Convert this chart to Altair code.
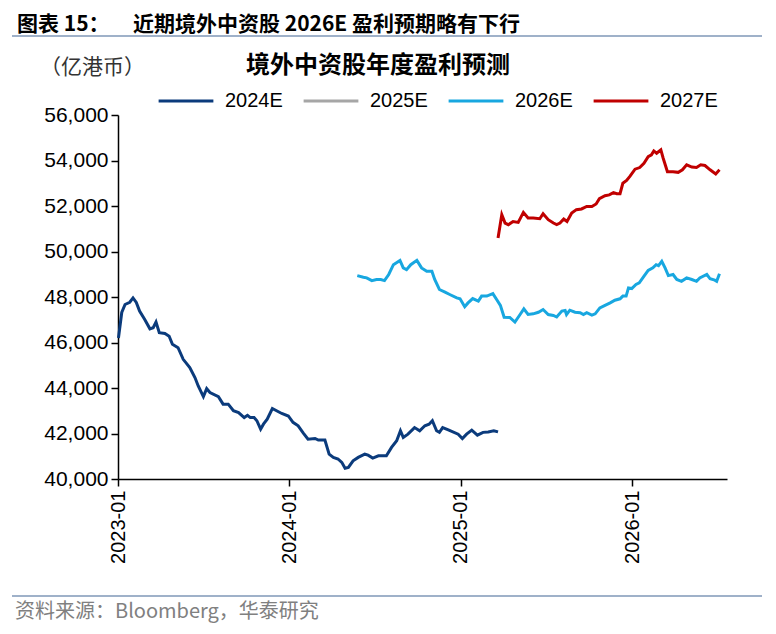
import altair as alt
import pandas as pd

series_names = ["2024E", "2025E", "2026E", "2027E"]
series_colors = ["#0b3b7c", "#a6a6a6", "#18a7e0", "#c00000"]

d2024 = ["2023-01-02", "2023-01-09", "2023-01-16", "2023-01-26", "2023-02-02", "2023-02-09", "2023-02-16",
         "2023-02-27", "2023-03-10", "2023-03-17", "2023-03-23", "2023-03-30", "2023-04-11", "2023-04-20",
         "2023-04-27", "2023-05-09", "2023-05-20", "2023-06-03", "2023-06-14", "2023-06-21", "2023-07-02",
         "2023-07-09", "2023-07-16", "2023-08-03", "2023-08-13", "2023-08-24", "2023-09-04", "2023-09-15",
         "2023-09-27", "2023-10-04", "2023-10-10", "2023-10-18", "2023-10-24", "2023-11-01", "2023-11-07",
         "2023-11-15", "2023-11-26", "2023-12-05", "2023-12-16", "2023-12-30", "2024-01-09", "2024-01-20",
         "2024-01-31", "2024-02-10", "2024-02-25", "2024-03-03", "2024-03-17", "2024-03-26", "2024-04-04",
         "2024-04-14", "2024-04-22", "2024-04-29", "2024-05-06", "2024-05-16", "2024-05-27", "2024-06-10",
         "2024-06-17", "2024-06-27", "2024-07-09", "2024-07-16", "2024-07-26", "2024-08-06", "2024-08-17",
         "2024-08-25", "2024-08-31", "2024-09-10", "2024-09-24", "2024-10-05", "2024-10-16", "2024-10-25",
         "2024-11-01", "2024-11-10", "2024-11-16", "2024-11-23", "2024-12-05", "2024-12-26", "2025-01-04",
         "2025-01-13", "2025-01-24", "2025-02-05", "2025-02-17", "2025-02-28", "2025-03-12", "2025-03-21"]
v2024 = [46200, 47320, 47670, 47770, 47960, 47760, 47380,
         47010, 46600, 46650, 46900, 46430, 46400, 46280,
         45920, 45770, 45260, 44900, 44460, 44090, 43620,
         43970, 43800, 43620, 43290, 43290, 43000, 42920,
         42700, 42800, 42700, 42700, 42560, 42190, 42410,
         42630, 43100, 43000, 42880, 42770, 42490, 42340,
         42020, 41750, 41780, 41710, 41710, 41090, 40950,
         40880, 40730, 40470, 40510, 40800, 40950, 41090,
         41050, 40920, 41020, 41020, 41020, 41390, 41680,
         42120, 41830, 41970, 42260, 42120, 42340, 42410,
         42560, 42120, 42050, 42260, 42160, 41970, 41780,
         41970, 42150, 41930, 42050, 42070, 42120, 42070]

d2026 = ["2024-05-25", "2024-06-07", "2024-06-14", "2024-06-25", "2024-07-05", "2024-07-14", "2024-07-22",
         "2024-07-31", "2024-08-10", "2024-08-24", "2024-08-31", "2024-09-07", "2024-09-16", "2024-09-29",
         "2024-10-09", "2024-10-20", "2024-10-31", "2024-11-06", "2024-11-16", "2024-11-28", "2024-12-08",
         "2024-12-23", "2024-12-30", "2025-01-09", "2025-01-16", "2025-01-26", "2025-02-07", "2025-02-14",
         "2025-02-25", "2025-03-10", "2025-03-18", "2025-03-26", "2025-04-03", "2025-04-15", "2025-04-26",
         "2025-05-07", "2025-05-15", "2025-05-24", "2025-06-04", "2025-06-15", "2025-06-25", "2025-07-06",
         "2025-07-17", "2025-07-24", "2025-08-04", "2025-08-11", "2025-08-14", "2025-08-21", "2025-09-01",
         "2025-09-12", "2025-09-19", "2025-09-26", "2025-10-07", "2025-10-14", "2025-10-24", "2025-11-04",
         "2025-11-15", "2025-11-25", "2025-12-06", "2025-12-12", "2025-12-19", "2025-12-24", "2025-12-31",
         "2026-01-09", "2026-01-16", "2026-01-25", "2026-02-04", "2026-02-14", "2026-02-21", "2026-02-26",
         "2026-03-05", "2026-03-12", "2026-03-19", "2026-03-29", "2026-04-06", "2026-04-16", "2026-04-27",
         "2026-05-08", "2026-05-18", "2026-05-25", "2026-06-09", "2026-06-16", "2026-06-26", "2026-06-30",
         "2026-07-06"]
v2026 = [48940, 48870, 48840, 48720, 48770, 48770, 48720,
         48990, 49420, 49610, 49280, 49200, 49420, 49610,
         49280, 49130, 49130, 48770, 48330, 48210, 48110,
         47960, 47920, 47570, 47740, 47930, 47820, 48040,
         48040, 48150, 47890, 47630, 47110, 47100, 46900,
         47230, 47480, 47230, 47260, 47330, 47450, 47230,
         47190, 47120, 47380, 47410, 47230, 47420, 47330,
         47310, 47230, 47310, 47200, 47260, 47520, 47630,
         47740, 47860, 47920, 48040, 48040, 48400, 48370,
         48550, 48620, 48880, 49170, 49280, 49420, 49380,
         49570, 49280, 48940, 48990, 48770, 48690, 48840,
         48770, 48690, 48840, 48990, 48800, 48740, 48690,
         49020]

d2027 = ["2025-03-21", "2025-03-29", "2025-04-05", "2025-04-12", "2025-04-22", "2025-05-03", "2025-05-14",
         "2025-05-24", "2025-06-04", "2025-06-18", "2025-06-25", "2025-07-06", "2025-07-17", "2025-07-24",
         "2025-07-31", "2025-08-08", "2025-08-15", "2025-08-25", "2025-09-04", "2025-09-15", "2025-09-26",
         "2025-10-07", "2025-10-16", "2025-10-23", "2025-11-04", "2025-11-13", "2025-11-22", "2025-11-29",
         "2025-12-06", "2025-12-12", "2025-12-20", "2025-12-27", "2026-01-07", "2026-01-17", "2026-01-26",
         "2026-02-04", "2026-02-11", "2026-02-16", "2026-02-22", "2026-03-03", "2026-03-08", "2026-03-17",
         "2026-03-29", "2026-04-09", "2026-04-18", "2026-04-27", "2026-05-08", "2026-05-18", "2026-05-27",
         "2026-06-05", "2026-06-16", "2026-06-28", "2026-07-06"]
v2027 = [50590, 51620, 51250, 51180, 51320, 51280, 51720,
         51470, 51470, 51440, 51660, 51400, 51250, 51180,
         51250, 51430, 51320, 51690, 51840, 51870, 51980,
         51980, 52090, 52320, 52450, 52490, 52590, 52540,
         52540, 53000, 53120, 53300, 53620, 53690, 53880,
         54170, 54250, 54420, 54320, 54470, 54100, 53510,
         53510, 53480, 53590, 53810, 53710, 53690, 53810,
         53780, 53590, 53410, 53590]

y_ticks = [40000, 42000, 44000, 46000, 48000, 50000, 52000, 54000, 56000]
x_tick_years = [2023, 2024, 2025, 2026]

title_label = "图表 15："
title_text = "近期境外中资股 2026E 盈利预期略有下行"
chart_title = "境外中资股年度盈利预测"
unit_label = "（亿港币）"
source_label = "资料来源：Bloomberg，华泰研究"

rows = []
for name, ds, vs in [("2024E", d2024, v2024), ("2026E", d2026, v2026), ("2027E", d2027, v2027)]:
    for d, v in zip(ds, vs):
        rows.append({"date": d, "value": v, "series": name})
df = pd.DataFrame(rows)

W, H = 609, 364
LAT = "Liberation Sans"
CJK = "Noto Sans CJK SC"

lines = alt.Chart(df).mark_line(strokeWidth=3).encode(
    x=alt.X("date:T",
            scale=alt.Scale(domain=[alt.DateTime(year=2023, month=1, date=1),
                                    alt.DateTime(year=2026, month=7, date=22)]),
            axis=alt.Axis(title=None, grid=False, format="%Y-%m",
                          values=[alt.DateTime(year=y, month=1, date=1) for y in x_tick_years],
                          labelAngle=270, labelFontSize=20, labelFont=LAT, labelColor="black",
                          labelPadding=4, tickSize=7, tickColor="black", tickWidth=1.5,
                          domainColor="black", domainWidth=1.5)),
    y=alt.Y("value:Q",
            scale=alt.Scale(domain=[40000, 56000], nice=False, zero=False),
            axis=alt.Axis(title=None, grid=False, format=",d", values=y_ticks,
                          labelFontSize=21, labelFont=LAT, labelColor="black",
                          labelPadding=3, tickSize=7, tickColor="black", tickWidth=1.5,
                          domainColor="black", domainWidth=1.5)),
    color=alt.Color("series:N",
                    scale=alt.Scale(domain=series_names, range=series_colors),
                    legend=alt.Legend(title=None, orient="none", legendX=39, legendY=-43,
                                      direction="horizontal", symbolType="stroke",
                                      symbolSize=3000, symbolStrokeWidth=3,
                                      labelFontSize=20, labelFont=LAT, labelColor="black",
                                      labelOffset=10, columnPadding=14)),
)

one = pd.DataFrame({"k": [0]})


def txt(text, x, y, size, color="black", weight="normal", align="left", font=CJK):
    return alt.Chart(one).mark_text(text=text, fontSize=size, font=font, color=color,
                                    fontWeight=weight, align=align, baseline="middle").encode(
        x=alt.value(x), y=alt.value(y))


def hrule(x1, x2, y, color, width):
    return alt.Chart(one).mark_rule(color=color, strokeWidth=width).encode(
        x=alt.value(x1), x2=alt.value(x2), y=alt.value(y))


chart = alt.layer(
    lines,
    txt(title_label, -101, -90, 21, weight="bold"),
    txt(title_text, 15, -90, 21, weight="bold"),
    hrule(-106, 644, -79, "#9fb1c9", 2),
    txt(unit_label, -78, -47, 21, color="#333333"),
    txt(chart_title, 260, -49, 24, weight="bold", align="center"),
    hrule(-106, 644, 481, "#9fb1c9", 2),
    txt(source_label, -103, 497, 20, color="#808080"),
).properties(
    width=W, height=H,
    autosize=alt.AutoSizeParams(type="none"),
    padding={"left": 110, "top": 107, "right": 41, "bottom": 147},
).configure_view(stroke=None)

chart.save("out.html", embed_options={"renderer": "svg", "actions": False})
